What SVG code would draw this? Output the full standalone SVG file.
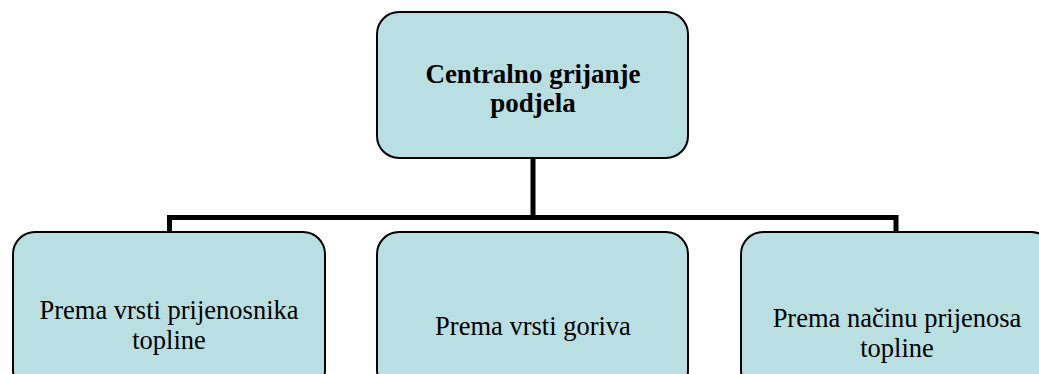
<svg xmlns="http://www.w3.org/2000/svg" width="1039" height="374" viewBox="0 0 1039 374">
<style>
.box{fill:#badfe3;stroke:#000;stroke-width:2}
.t{font-family:"Liberation Serif","Times New Roman",serif;font-size:26.5px;fill:#000;text-anchor:middle}
.b{font-weight:bold;font-size:27px}
.c{fill:none;stroke:#000;stroke-width:5}
</style>
<rect width="1039" height="374" fill="#fff"/>
<g id="connectors">
<path class="c" d="M533 158 V217.5 M169.5 232 V217.5 H896 V232"/>
</g>
<g id="root">
<rect class="box" x="377" y="12" width="311" height="146" rx="22"/>
<text class="t b" x="533" y="83">Centralno grijanje</text>
<text class="t b" x="533" y="112">podjela</text>
</g>
<g id="n1">
<rect class="box" x="13" y="232" width="312" height="160" rx="22"/>
<text class="t" x="169" y="319">Prema vrsti prijenosnika</text>
<text class="t" x="169" y="349">topline</text>
</g>
<g id="n2">
<rect class="box" x="377" y="232" width="311" height="160" rx="22"/>
<text class="t" x="533" y="335">Prema vrsti goriva</text>
</g>
<g id="n3">
<rect class="box" x="741" y="232" width="312" height="160" rx="22"/>
<text class="t" x="897" y="327">Prema načinu prijenosa</text>
<text class="t" x="897" y="357">topline</text>
</g>
</svg>
